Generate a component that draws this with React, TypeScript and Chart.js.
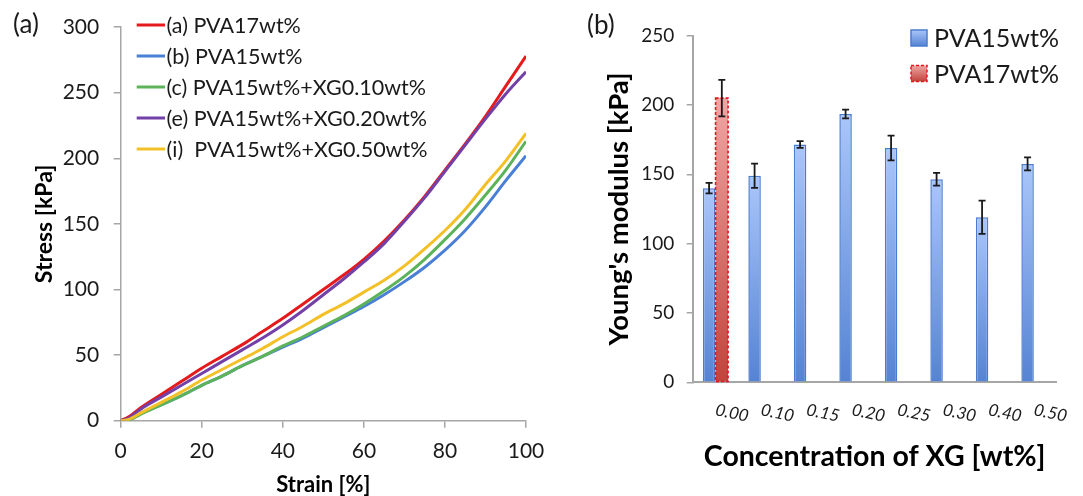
import React, { useEffect, useRef } from 'react';
import { Chart, registerables } from 'chart.js';

Chart.register(...registerables);

const FONT = "Lato, 'Open Sans', sans-serif";

// ---------- Panel (a): stress-strain curves ----------
const strain = [0, 2, 5, 10, 15, 20, 25, 30, 35, 40, 45, 50, 55, 60, 65, 70, 75, 80, 85, 90, 95, 100];
const stressPVA17 = [0, 3, 10, 20, 30, 40, 49, 58, 68, 78, 89, 100, 111, 123, 137, 153, 171, 191, 211, 232, 255, 278];
const stressPVA15 = [0, 1, 6, 12, 19, 27, 34, 42, 49, 56, 63, 71, 79, 87, 96, 106, 117, 130, 145, 163, 183, 202];
const stressXG010 = [0, 0.5, 5, 12, 19, 27, 34, 42, 49, 57, 64, 72, 80, 89, 99, 110, 123, 138, 154, 172, 191, 213];
const stressXG020 = [0, 2, 9, 18, 27, 36, 45, 54, 63, 73, 84, 96, 108, 121, 135, 152, 170, 190, 210, 230, 249, 266];
const stressXG050 = [0, 1, 6, 14, 22, 31, 39, 47, 55, 64, 72, 81, 89, 98, 107, 118, 131, 145, 161, 180, 198, 219];
const seriesLabels = [
  '(a) PVA17wt%',
  '(b) PVA15wt%',
  '(c) PVA15wt%+XG0.10wt%',
  '(e) PVA15wt%+XG0.20wt%',
  '(i)  PVA15wt%+XG0.50wt%',
];
const seriesValues = [stressPVA17, stressPVA15, stressXG010, stressXG020, stressXG050];
const lineColors = ['#e41a1c', '#4a7fd6', '#5cb35a', '#7340a8', '#f4c028'];

// ---------- Panel (b): Young's modulus bars ----------
const concentrations = ['0.00', '0.10', '0.15', '0.20', '0.25', '0.30', '0.40', '0.50'];
const modulusPVA15 = [140, 149, 171.5, 193.5, 169, 146.5, 119, 157.5];
const errorPVA15 = [3.8, 8.8, 2.4, 3.2, 8.9, 4.6, 12, 4.7];
const modulusPVA17 = [205, null, null, null, null, null, null, null];
const errorPVA17 = [13.2, null, null, null, null, null, null, null];

const BLUE_TOP = '#aac6fa';
const BLUE_BOT = '#5583d3';
const BLUE_EDGE = '#4a7cd0';
const RED_TOP = '#f0a6a3';
const RED_BOT = '#c0443c';
const RED_EDGE = '#e3161c';

const AXIS_GRAY = '#a6a6a6';
const TEXT = '#1a1a1a';

const gradFill = (top: string, bottom: string) => (c: any) => {
  const chart = c.chart;
  const ys = chart.scales && chart.scales.y;
  const v = c.raw;
  if (!ys || v == null || !chart.chartArea) return bottom;
  const yTop = ys.getPixelForValue(v);
  const yBot = ys.getPixelForValue(0);
  if (!isFinite(yTop) || !isFinite(yBot) || yTop === yBot) return bottom;
  const g = chart.ctx.createLinearGradient(0, yTop, 0, yBot);
  g.addColorStop(0, top);
  g.addColorStop(1, bottom);
  return g;
};

const legendAPlugin = {
  id: 'legendA',
  afterDraw(chart: any) {
    const ctx = chart.ctx;
    ctx.save();
    ctx.font = `26px ${FONT}`;
    ctx.fillStyle = TEXT;
    ctx.textBaseline = 'middle';
    ctx.textAlign = 'left';
    ctx.fillText('(a)', 13, 25);
    ctx.font = `21.5px ${FONT}`;
    seriesLabels.forEach((lab, i) => {
      const y = 25 + i * 31;
      ctx.strokeStyle = lineColors[i];
      ctx.lineWidth = 3;
      ctx.beginPath();
      ctx.moveTo(136.7, y);
      ctx.lineTo(165, y);
      ctx.stroke();
      ctx.fillStyle = TEXT;
      ctx.fillText(lab, 166.5, y + 1);
    });
    ctx.restore();
  },
};

const barExtrasPlugin = {
  id: 'barExtras',
  afterDatasetsDraw(chart: any) {
    const ctx = chart.ctx;
    const ys = chart.scales.y;
    ctx.save();
    const metaRed = chart.getDatasetMeta(1);
    modulusPVA17.forEach((v, i) => {
      if (v == null) return;
      const el = metaRed.data[i];
      if (!el) return;
      ctx.setLineDash([3, 2]);
      ctx.strokeStyle = RED_EDGE;
      ctx.lineWidth = 1.6;
      ctx.strokeRect(el.x - el.width / 2, el.y, el.width, el.base - el.y);
    });
    ctx.setLineDash([]);
    const sets: any[] = [
      [modulusPVA15, errorPVA15],
      [modulusPVA17, errorPVA17],
    ];
    sets.forEach(([vals, errs], di) => {
      const meta = chart.getDatasetMeta(di);
      vals.forEach((v: any, i: number) => {
        if (v == null || errs[i] == null) return;
        const el = meta.data[i];
        if (!el) return;
        const x = el.x;
        const y1 = ys.getPixelForValue(v + errs[i]);
        const y2 = ys.getPixelForValue(v - errs[i]);
        ctx.strokeStyle = '#1a1a1a';
        ctx.lineWidth = 1.8;
        ctx.beginPath();
        ctx.moveTo(x, y1);
        ctx.lineTo(x, y2);
        ctx.moveTo(x - 3.5, y1);
        ctx.lineTo(x + 3.5, y1);
        ctx.moveTo(x - 3.5, y2);
        ctx.lineTo(x + 3.5, y2);
        ctx.stroke();
      });
    });
    ctx.restore();
  },
  afterDraw(chart: any) {
    const ctx = chart.ctx;
    const xs = chart.scales.x;
    ctx.save();
    ctx.font = `26px ${FONT}`;
    ctx.fillStyle = TEXT;
    ctx.textBaseline = 'middle';
    ctx.textAlign = 'left';
    ctx.fillText('(b)', 587, 26);
    ctx.font = `italic 17px ${FONT}`;
    concentrations.forEach((c, i) => {
      const px = xs.getPixelForValue(i);
      ctx.save();
      ctx.translate(px + 16.5, 413);
      ctx.rotate((12 * Math.PI) / 180);
      ctx.textAlign = 'center';
      ctx.textBaseline = 'middle';
      ctx.fillText(c, 0, 0);
      ctx.restore();
    });
    const items = [
      { label: 'PVA15wt%', top: BLUE_TOP, bot: BLUE_BOT, edge: BLUE_EDGE, dash: false, y: 38 },
      { label: 'PVA17wt%', top: RED_TOP, bot: RED_BOT, edge: RED_EDGE, dash: true, y: 73.5 },
    ];
    items.forEach((it) => {
      const x0 = 911;
      const s = 16;
      const y0 = it.y - s / 2;
      const g = ctx.createLinearGradient(0, y0, 0, y0 + s);
      g.addColorStop(0, it.top);
      g.addColorStop(1, it.bot);
      ctx.fillStyle = g;
      ctx.fillRect(x0, y0, s, s);
      ctx.strokeStyle = it.edge;
      ctx.lineWidth = 1.5;
      ctx.setLineDash(it.dash ? [3, 2] : []);
      ctx.strokeRect(x0, y0, s, s);
      ctx.setLineDash([]);
      ctx.fillStyle = TEXT;
      ctx.font = `25px ${FONT}`;
      ctx.textAlign = 'left';
      ctx.textBaseline = 'middle';
      ctx.fillText(it.label, 934, it.y + 1);
    });
    ctx.restore();
  },
};

export default function App() {
  const refA = useRef<HTMLCanvasElement | null>(null);
  const refB = useRef<HTMLCanvasElement | null>(null);

  useEffect(() => {
    if (!refA.current || !refB.current) return;

    const lineDatasets = seriesValues.map((vals, i) => ({
      label: seriesLabels[i],
      data: strain.map((x, j) => ({ x, y: vals[j] })),
      borderColor: lineColors[i],
      backgroundColor: lineColors[i],
      borderWidth: 3,
      pointRadius: 0,
      showLine: true,
      fill: false,
      cubicInterpolationMode: 'monotone',
      order: 5 - i,
    }));

    const chartA = new Chart(refA.current, {
      type: 'scatter',
      data: { datasets: lineDatasets as any },
      options: {
        animation: false,
        responsive: false,
        devicePixelRatio: 1,
        layout: { padding: { left: 0, top: 20.7, right: 1083 - 526, bottom: 0 } },
        plugins: { legend: { display: false }, tooltip: { enabled: false } },
        scales: {
          x: {
            type: 'linear',
            min: 0,
            max: 100,
            afterFit: (s: any) => {
              s.height = 75.3;
            },
            ticks: { stepSize: 20, font: { family: FONT, size: 21 }, color: TEXT, padding: 11.4 },
            grid: { drawOnChartArea: false, tickLength: 7, color: AXIS_GRAY, lineWidth: 1.5 },
            border: { color: AXIS_GRAY, width: 1.5 },
            title: {
              display: true,
              text: 'Strain [%]',
              font: { family: FONT, size: 22, weight: 'bold' },
              color: '#000',
              padding: { top: 0, bottom: -2 },
            },
          },
          y: {
            type: 'linear',
            min: 0,
            max: 300,
            afterFit: (s: any) => {
              s.width = 120.7;
            },
            ticks: { stepSize: 50, font: { family: FONT, size: 21 }, color: TEXT, padding: 14.5 },
            grid: { drawOnChartArea: false, tickLength: 7, color: AXIS_GRAY, lineWidth: 1.5 },
            border: { color: AXIS_GRAY, width: 1.5 },
            title: {
              display: true,
              text: 'Stress [kPa]',
              font: { family: FONT, size: 23, weight: 'bold' },
              color: '#000',
              padding: { top: 31.2, bottom: 0 },
            },
          },
        },
      } as any,
      plugins: [legendAPlugin],
    });

    const chartB = new Chart(refB.current, {
      type: 'bar',
      data: {
        labels: concentrations,
        datasets: [
          {
            label: 'PVA15wt%',
            data: modulusPVA15,
            backgroundColor: gradFill(BLUE_TOP, BLUE_BOT),
            borderColor: BLUE_EDGE,
            borderWidth: 1.5,
            categoryPercentage: 0.56,
            barPercentage: 0.98,
          },
          {
            label: 'PVA17wt%',
            data: modulusPVA17,
            backgroundColor: gradFill(RED_TOP, RED_BOT),
            borderWidth: 0,
            categoryPercentage: 0.56,
            barPercentage: 0.98,
          },
        ] as any,
      },
      options: {
        animation: false,
        responsive: false,
        devicePixelRatio: 1,
        layout: { padding: { left: 540, top: 35.7, right: 26.3, bottom: 0 } },
        plugins: { legend: { display: false }, tooltip: { enabled: false } },
        scales: {
          x: {
            type: 'category',
            afterFit: (s: any) => {
              s.height = 113.7;
            },
            ticks: { display: false },
            grid: { drawOnChartArea: false, drawTicks: false },
            border: { color: AXIS_GRAY, width: 2 },
            title: {
              display: true,
              text: 'Concentration of XG [wt%]',
              font: { family: FONT, size: 28.5, weight: 'bold' },
              color: '#000',
              padding: { top: 0, bottom: 21.9 },
            },
          },
          y: {
            type: 'linear',
            min: 0,
            max: 250,
            afterFit: (s: any) => {
              s.width = 152.7;
            },
            ticks: { stepSize: 50, font: { family: FONT, size: 19 }, color: TEXT, padding: 12.5 },
            grid: { drawOnChartArea: false, tickLength: 6, color: AXIS_GRAY, lineWidth: 1.5 },
            border: { color: AXIS_GRAY, width: 2 },
            title: {
              display: true,
              text: "Young's modulus [kPa]",
              font: { family: FONT, size: 27.5, weight: 'bold' },
              color: '#000',
              padding: { top: 62.3, bottom: 0 },
            },
          },
        },
      } as any,
      plugins: [barExtrasPlugin],
    });

    return () => {
      chartA.destroy();
      chartB.destroy();
    };
  }, []);

  const canvasStyle: React.CSSProperties = {
    position: 'absolute',
    left: 0,
    top: 0,
    width: 1083,
    height: 496,
  };

  return (
    <div style={{ position: 'fixed', left: 0, top: 0, width: 1083, height: 496, background: '#fff' }}>
      <canvas ref={refA} width={1083} height={496} style={canvasStyle} />
      <canvas ref={refB} width={1083} height={496} style={canvasStyle} />
    </div>
  );
}
